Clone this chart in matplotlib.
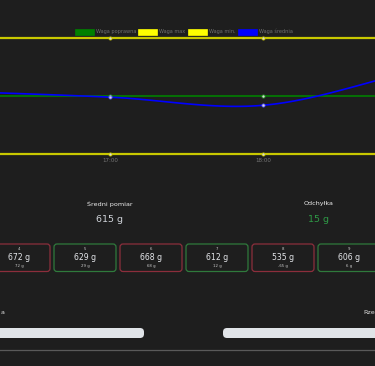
import numpy as np
import matplotlib
matplotlib.use("Agg")
import matplotlib.pyplot as plt
from matplotlib.patches import Rectangle, FancyBboxPatch

# data
hours = [16, 17, 18, 19]
hour_labels = ["16:00", "17:00", "18:00", "19:00"]
avg_weight = [604, 599, 592, 622]
max_weight = [650, 650, 650, 650]
min_weight = [550, 550, 550, 550]
target_weight = [600, 600, 600, 600]

legend_labels = ["Waga poprawna", "Waga max", "Waga min.", "Waga średnia"]
legend_colors = ["#008000", "#ffff00", "#ffff00", "#0000ff"]

mean_label = "Średni pomiar"
mean_value = 615
dev_label = "Odchyłka"
dev_value = 15

card_ids = [4, 5, 6, 7, 8, 9]
card_values = [672, 629, 668, 612, 535, 606]
card_devs = [72, 29, 68, 12, -65, 6]

bg = "#1e1e1e"


def smooth(x, y, n=40):
    # catmull-rom style curve through the points
    x = np.asarray(x, float)
    y = np.asarray(y, float)
    m = np.gradient(y)
    xs, ys = [], []
    for i in range(len(x) - 1):
        t = np.linspace(0, 1, n)
        h00 = 2 * t**3 - 3 * t**2 + 1
        h10 = t**3 - 2 * t**2 + t
        h01 = -2 * t**3 + 3 * t**2
        h11 = t**3 - t**2
        xs.append(x[i] + t * (x[i + 1] - x[i]))
        ys.append(h00 * y[i] + h10 * m[i] + h01 * y[i + 1] + h11 * m[i + 1])
    return np.concatenate(xs), np.concatenate(ys)


fig = plt.figure(figsize=(3.75, 3.66), dpi=100, facecolor=bg)

# chart axes: pixel rows 30..162
px_per_g = 116 / 100
top_px, bot_px = 30, 162
ax = fig.add_axes([0, 1 - bot_px / 366, 1, (bot_px - top_px) / 366])
ax.set_facecolor(bg)

ax.plot(hours, max_weight, color="#c8c800", lw=1.6, zorder=2)
ax.plot(hours, min_weight, color="#c8c800", lw=1.6, zorder=2)
ax.plot(hours, target_weight, color="#008000", lw=1.2, zorder=3)
sx, sy = smooth(hours, avg_weight)
ax.plot(sx, sy, color="#0000ff", lw=1.2, zorder=4)

for vals, c in [(max_weight, "#c8c800"), (min_weight, "#c8c800"),
                (target_weight, "#2e9a2e"), (avg_weight, "#5a5aff")]:
    ax.scatter(hours, vals, s=5, facecolor="#d8d8d8", edgecolor=c,
               linewidth=0.6, zorder=5)

ax.set_xticks(hours)
ax.set_xticklabels(hour_labels)
ax.set_xlim(17 - 110 / 153, 18 + 112 / 153)
ax.set_ylim(550 - (bot_px - 154) / px_per_g, 650 + (38 - top_px) / px_per_g)
ax.tick_params(axis="x", colors="#777777", labelsize=4, length=0, pad=-2.6)
ax.set_yticks([])
for s in ax.spines.values():
    s.set_visible(False)

# overlay in pixel coordinates
ov = fig.add_axes([0, 0, 1, 1])
ov.set_xlim(0, 375)
ov.set_ylim(366, 0)
ov.axis("off")
ov.patch.set_alpha(0)

# legend
lx = [75, 138, 188, 238]
for x0, lab, c in zip(lx, legend_labels, legend_colors):
    ov.add_patch(Rectangle((x0, 28.5), 19, 6, facecolor=c, edgecolor=c,
                           lw=0.5))
    ov.text(x0 + 21, 31.5, lab, color="#6e6e6e", fontsize=3.6,
            va="center", ha="left")

# summary values
ov.text(110, 204, mean_label, color="#eeeeee", fontsize=4.6,
        ha="center", va="center")
ov.text(110, 219, f"{mean_value} g", color="#d0d4da", fontsize=6.8,
        ha="center", va="center")
ov.text(319, 204, dev_label, color="#eeeeee", fontsize=4.6,
        ha="center", va="center")
ov.text(319, 219, f"{dev_value} g", color="#2e9a46", fontsize=6.8,
        ha="center", va="center")

# cards
for i, (cid, val, dv) in enumerate(zip(card_ids, card_values, card_devs)):
    x0 = -12 + 66 * i
    ok = 550 <= val <= 650
    ec = "#2f7a3c" if ok else "#8c2e3c"
    ov.add_patch(FancyBboxPatch((x0, 244), 62, 27.5,
                                boxstyle="round,pad=0,rounding_size=3",
                                facecolor=bg, edgecolor=ec, lw=0.9))
    cx = x0 + 31
    ov.text(cx, 248.5, str(cid), color="#cccccc", fontsize=2.8,
            ha="center", va="center")
    ov.text(cx, 257.5, f"{val} g", color="#e4e6ea", fontsize=5.6,
            ha="center", va="center")
    ov.text(cx, 266.5, f"{dv} g", color="#cccccc", fontsize=2.8,
            ha="center", va="center")

# bottom labels and bars
ov.text(0.5, 313, "a", color="#dddddd", fontsize=4.6, ha="left", va="center")
ov.text(363, 313, "Rze", color="#dddddd", fontsize=4.6, ha="left",
        va="center")
ov.add_patch(FancyBboxPatch((-20, 328), 164, 10,
                            boxstyle="round,pad=0,rounding_size=4",
                            facecolor="#e1e4e8", edgecolor="none"))
ov.add_patch(FancyBboxPatch((223, 328), 170, 10,
                            boxstyle="round,pad=0,rounding_size=4",
                            facecolor="#e1e4e8", edgecolor="none"))
ov.plot([0, 375], [349.5, 349.5], color="#5a5a5a", lw=0.9)

fig.savefig("out.png", dpi=100, facecolor=bg)
